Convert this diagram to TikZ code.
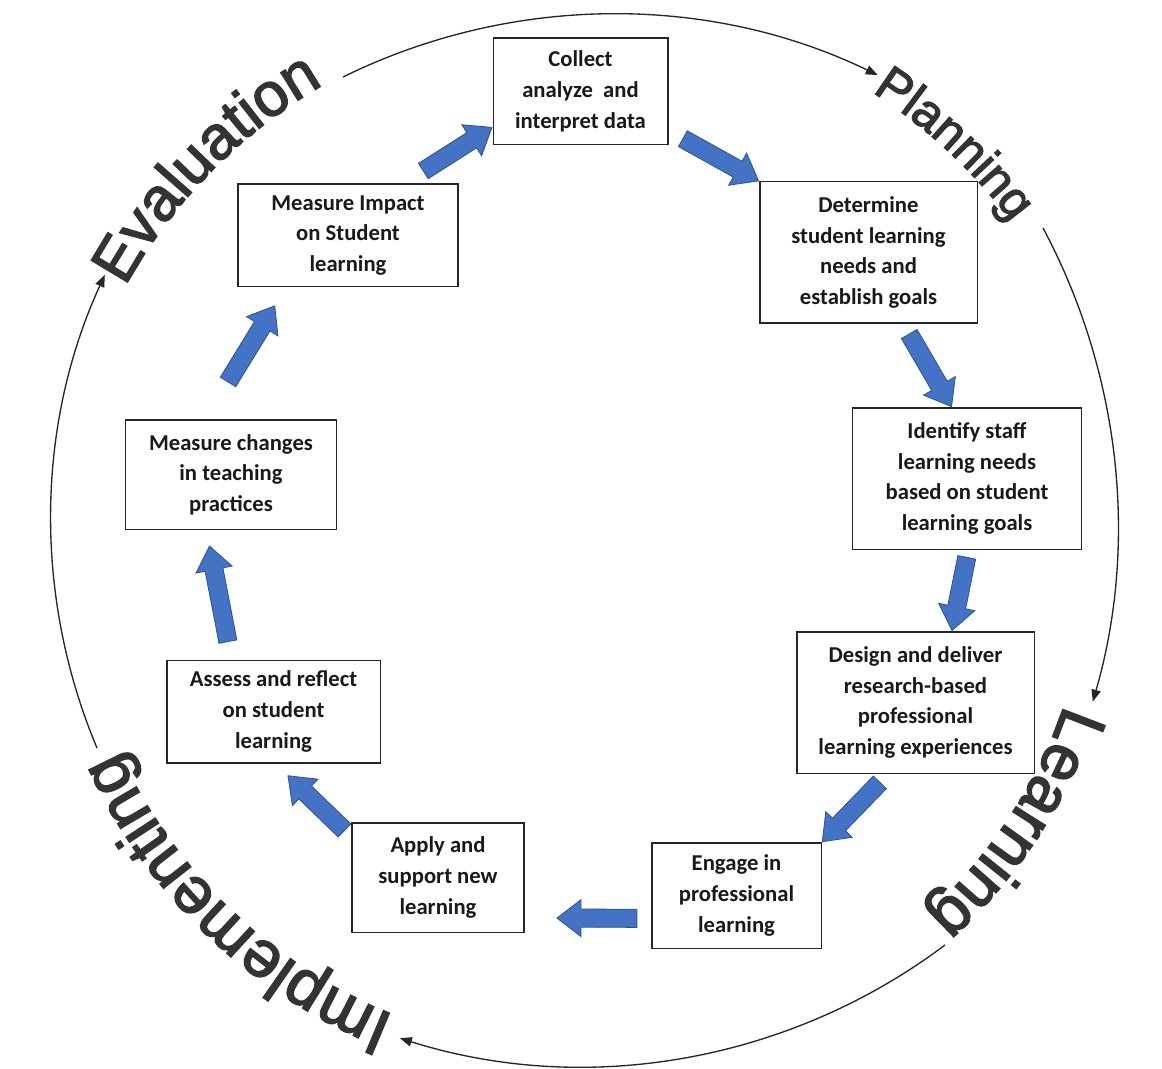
\documentclass[tikz,border=0pt]{standalone}
\usepackage{fontspec}
\setmainfont{Carlito}
\newfontfamily\ringfont{Liberation Sans}[FakeBold=2.5]
\usetikzlibrary{shapes.arrows,decorations.text,arrows.meta}

\definecolor{arrowblue}{RGB}{68,114,196}
\definecolor{arrowedge}{RGB}{47,82,143}

\tikzset{
    fat/.style={single arrow, draw=arrowedge, fill=arrowblue, line width=0.6pt,
        inner sep=6.5pt, single arrow head extend=7pt, single arrow tip angle=75,
        minimum height=#1, sloped, allow upside down, anchor=tip, pos=1},
    fat/.default=61pt,
    ring/.style={line width=1pt, black!85, -{Triangle[length=9pt,width=7pt]}},
    ringtext/.style 2 args={decorate, decoration={text along path, text align=center,
        text={|\ringfont\fontsize{#1}{#1}\selectfont\color{black!80}|#2}}}
}

\begin{document}
\begin{tikzpicture}[x=0.75pt,y=0.75pt]
        \path[use as bounding box, fill=white] (0,0) rectangle (1162,-1069);
        \coordinate (ctr) at (585,-540);

        % outer ring, four hand-drawn arcs
        \draw[ring] (343,-77) arc[start angle=116.2, end angle=64.2, radius=610];
        \draw[ring] (1043,-228) arc[start angle=28.1, end angle=-16.1, radius=633];
        \draw[ring] (945,-945) arc[start angle=-53.1, end angle=-107.5, radius=605];
        \draw[ring] (97,-748) arc[start angle=202.8, end angle=155.3, radius=587.5];

        \path[ringtext={46}{Evaluation}] (ctr) ++(157:525) arc[start angle=157, end angle=114, radius=525];
        \path[ringtext={37}{Planning}] (ctr) ++(69:532) arc[start angle=69, end angle=25, radius=532];
        \path[ringtext={49}{Learning}] (ctr) ++(-11:507) arc[start angle=-11, end angle=-55.6, radius=507];
        \path[ringtext={49}{Implementing}] (ctr) ++(255:512) arc[start angle=255, end angle=197.5, radius=512];

        \begin{scope}[every node/.style={draw=black!85, line width=1pt, fill=white, align=center,
                font=\fontsize{17}{23}\selectfont\bfseries, text=black!90, inner sep=2pt}]
            \node (collect) [minimum width=131pt, minimum height=80pt] at (580.5,-91.5) {Collect\\analyze\ \ and\\interpret data};
            \node (needs) [minimum width=163pt, minimum height=106pt] at (868.5,-252.5) {Determine\\student learning\\needs and\\establish goals};
            \node (staff) [minimum width=172pt, minimum height=106pt] at (967,-478.5) {Identify staff\\learning needs\\based on student\\learning goals};
            \node (design) [minimum width=178pt, minimum height=106pt] at (915.5,-702.5) {Design and deliver\\research-based\\professional\\learning experiences};
            \node (engage) [minimum width=127pt, minimum height=79pt] at (736.5,-895.5) {Engage in\\professional\\learning};
            \node (apply) [minimum width=129pt, minimum height=82pt] at (438,-877.5) {Apply and\\support new\\learning};
            \node (assess) [minimum width=160pt, minimum height=77pt] at (273.5,-711.5) {Assess and reflect\\on student\\learning};
            \node (teach) [minimum width=158pt, minimum height=82pt] at (231,-474.5) {Measure changes\\in teaching\\practices};
            \node (impact) [minimum width=165pt, minimum height=77pt] at (348,-235.5) {Measure Impact\\on Student\\learning};
        \end{scope}

        \begin{scope}[every edge/.style={draw=none}]
            \path
                (impact.43) edge node[fat] {} (collect.202)
                (collect.336) edge node[fat=65pt] {} (needs.north west)
                (needs.296) edge node[fat=63pt] {} (staff.102)
                (staff.271) edge node[fat=56pt] {} (design.63)
                (design.249) edge node[fat=62pt] {} (engage.north east)
                (engage.195) edge node[fat=60pt, pos=0.75] {} (apply.335)
                (apply.155) edge node[fat=59pt, pos=0.84] {} (assess.272)
                (assess.129) edge node[fat=73pt, pos=0.88] {} (teach.246)
                (teach.115) edge node[fat=67pt, pos=0.865] {} (impact.220);
        \end{scope}
\end{tikzpicture}
\end{document}
